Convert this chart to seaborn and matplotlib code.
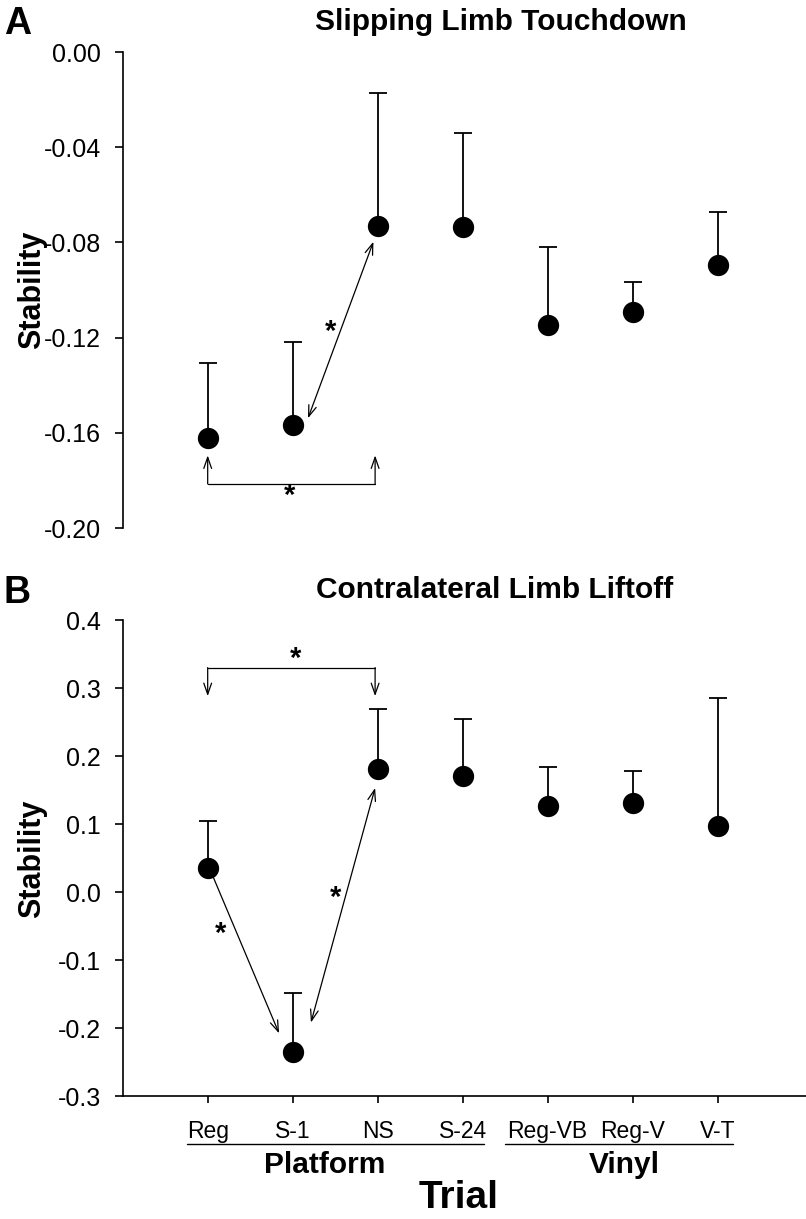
import matplotlib
matplotlib.use("Agg")
import matplotlib.pyplot as plt
import seaborn as sns
import pandas as pd

trials = ["Reg", "S-1", "NS", "S-24", "Reg-VB", "Reg-V", "V-T"]

# panel A: slipping limb touchdown (mean and top of the error bar)
touch_mean = [-0.1622, -0.1567, -0.0731, -0.0735, -0.1147, -0.1092, -0.0895]
touch_upper = [-0.1305, -0.1220, -0.0171, -0.0342, -0.0818, -0.0965, -0.0671]

# panel B: contralateral limb liftoff
lift_mean = [0.0357, -0.235, 0.1816, 0.171, 0.126, 0.1316, 0.0975]
lift_upper = [0.104, -0.149, 0.269, 0.255, 0.1835, 0.178, 0.286]

sns.set_style("ticks")
plt.rcParams["font.family"] = ["Liberation Sans", "DejaVu Sans"]
for key in ["text.color", "axes.labelcolor", "xtick.color", "ytick.color", "axes.edgecolor"]:
    plt.rcParams[key] = "black"

W, H = 806, 1219
fig = plt.figure(figsize=(W / 100, H / 100), dpi=100)

left = 122.7 / W
width = 1 - left
ax_a = fig.add_axes([left, 1 - 528 / H, width, 476 / H])
ax_b = fig.add_axes([left, 1 - 1096 / H, width, 476 / H])

ARROW = dict(lw=0.9, color="black", shrinkA=0, shrinkB=0, mutation_scale=20)


def draw_panel(ax, mean, upper):
    pos = list(range(len(trials)))
    df = pd.DataFrame({"pos": pos, "mean": mean})
    err = [u - m for m, u in zip(mean, upper)]
    ax.errorbar(pos, mean, yerr=[[0] * len(err), err], fmt="none",
                ecolor="black", elinewidth=1.3, capsize=6.3, capthick=1.3, zorder=2)
    sns.scatterplot(data=df, x="pos", y="mean", ax=ax, s=235, color="black",
                    edgecolor="black", linewidth=0, zorder=3, legend=False)
    ax.set_xlim(-1.0, 7.04)
    ax.set_xlabel("")
    ax.set_ylabel("")
    ax.spines["top"].set_visible(False)
    ax.spines["right"].set_visible(False)
    ax.spines["left"].set_linewidth(1.2)
    ax.tick_params(axis="y", labelsize=18, length=5.5, width=1.2, pad=10)


def arrow(ax, start, tip, style="->"):
    ax.annotate("", xy=tip, xytext=start,
                arrowprops=dict(arrowstyle=style + ",head_length=0.4,head_width=0.14", **ARROW))


def star(ax, x, y):
    ax.text(x, y, "*", fontsize=21, fontweight="bold", ha="center", va="center")


# ---- panel A
draw_panel(ax_a, touch_mean, touch_upper)
ax_a.set_ylim(-0.20, 0.0)
ax_a.set_yticks([-0.20, -0.16, -0.12, -0.08, -0.04, 0.00])
ax_a.set_yticklabels(["-0.20", "-0.16", "-0.12", "-0.08", "-0.04", "0.00"])
ax_a.spines["bottom"].set_visible(False)
ax_a.set_xticks([])

arrow(ax_a, (1.18, -0.1539), (1.95, -0.0797), "<->")
star(ax_a, 1.45, -0.1175)
ax_a.plot([0, 1.97], [-0.1815, -0.1815], color="black", lw=0.9)
arrow(ax_a, (0, -0.1815), (0, -0.1695))
arrow(ax_a, (1.97, -0.1815), (1.97, -0.1695))
star(ax_a, 0.96, -0.1865)

# ---- panel B
draw_panel(ax_b, lift_mean, lift_upper)
ax_b.set_ylim(-0.3, 0.4)
ax_b.set_yticks([-0.3, -0.2, -0.1, 0.0, 0.1, 0.2, 0.3, 0.4])
ax_b.set_yticklabels(["-0.3", "-0.2", "-0.1", "0.0", "0.1", "0.2", "0.3", "0.4"])
ax_b.spines["bottom"].set_linewidth(1.2)
ax_b.set_xticks(range(len(trials)))
ax_b.set_xticklabels(trials)
ax_b.tick_params(axis="x", labelsize=16.5, length=5, width=1.2, pad=12)

ax_b.plot([0, 1.97], [0.330, 0.330], color="black", lw=0.9)
arrow(ax_b, (0, 0.330), (0, 0.288))
arrow(ax_b, (1.97, 0.330), (1.97, 0.288))
star(ax_b, 1.03, 0.343)
arrow(ax_b, (0.065, 0.022), (0.84, -0.2079))
star(ax_b, 0.157, -0.062)
arrow(ax_b, (1.215, -0.192), (1.97, 0.153), "<->")
star(ax_b, 1.51, -0.008)

# group labels under the x axis
tr = ax_b.get_xaxis_transform()
ax_b.plot([-0.24, 3.25], [-0.101, -0.101], color="black", lw=1.0,
          transform=tr, clip_on=False)
ax_b.plot([3.50, 6.18], [-0.101, -0.101], color="black", lw=1.0,
          transform=tr, clip_on=False)
ax_b.text(1.38, -0.145, "Platform", transform=tr, ha="center", va="center",
          fontsize=21.5, fontweight="bold")
ax_b.text(4.9, -0.145, "Vinyl", transform=tr, ha="center", va="center",
          fontsize=21.5, fontweight="bold")
ax_b.text(2.95, -0.214, "Trial", transform=tr, ha="center", va="center",
          fontsize=28, fontweight="bold")

# titles, panel letters, y labels
fig.text(501 / W, 1 - 22 / H, "Slipping Limb Touchdown", ha="center", va="center",
         fontsize=21.5, fontweight="bold")
fig.text(495 / W, 1 - 590 / H, "Contralateral Limb Liftoff", ha="center", va="center",
         fontsize=21.5, fontweight="bold")
fig.text(4 / W, 1 - 24 / H, "A", ha="left", va="center", fontsize=27, fontweight="bold")
fig.text(3 / W, 1 - 593 / H, "B", ha="left", va="center", fontsize=27, fontweight="bold")
fig.text(32 / W, 1 - 290 / H, "Stability", rotation=90, ha="center", va="center",
         fontsize=22, fontweight="bold")
fig.text(32 / W, 1 - 859 / H, "Stability", rotation=90, ha="center", va="center",
         fontsize=22, fontweight="bold")

fig.savefig("out.png", dpi=100)
